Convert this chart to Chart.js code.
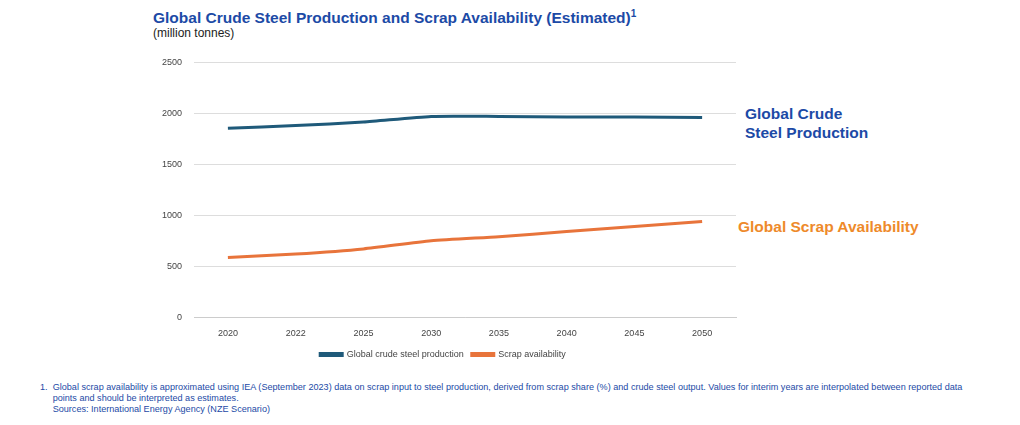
<!DOCTYPE html>
<html><head><meta charset="utf-8">
<script src="https://cdn.jsdelivr.net/npm/chart.js@4"></script>
<style>
body{margin:0;width:1020px;height:425px;background:#fff;font-family:"Liberation Sans",Arial,sans-serif;position:relative;overflow:hidden}
.t{position:absolute;left:153px;top:8px;font-size:15.5px;font-weight:bold;color:#1c4aa6}
.t sup{font-size:10px}
.s{position:absolute;left:153px;top:26px;font-size:12px;color:#222}
.l1{position:absolute;left:745px;top:104px;font-size:15.5px;font-weight:bold;color:#1c4aa6;line-height:19px}
.l2{position:absolute;left:738px;top:218px;font-size:15.5px;font-weight:bold;color:#ee8a2a}
.f{position:absolute;left:40px;top:382px;font-size:9.1px;color:#1c4aa6;line-height:11px}
#w{position:absolute;left:150px;top:45px;width:598px;height:324px}
</style></head><body>
<div class="t">Global Crude Steel Production and Scrap Availability (Estimated)<sup>1</sup></div>
<div class="s">(million tonnes)</div>
<div class="l1">Global Crude<br>Steel Production</div>
<div class="l2">Global Scrap Availability</div>
<div class="f">1.&nbsp; Global scrap availability is approximated using IEA (September 2023) data on scrap input to steel production, derived from scrap share (%) and crude steel output. Values for interim years are interpolated between reported data<br>&nbsp;&nbsp;&nbsp;&nbsp; points and should be interpreted as estimates.<br>&nbsp;&nbsp;&nbsp;&nbsp; Sources: International Energy Agency (NZE Scenario)</div>
<div id="w"><canvas id="c"></canvas></div>
<script>
const years=["2020","2022","2025","2030","2035","2040","2045","2050"];
const production=[1855,1880,1915,1970,1970,1965,1965,1960];
const scrap=[585,620,670,750,790,840,890,940];
new Chart(document.getElementById('c'),{type:'line',
data:{labels:years,datasets:[
{label:'Global crude steel production',data:production,borderColor:'#1f5a7a',backgroundColor:'#1f5a7a',borderWidth:3,pointRadius:0,tension:0.2},
{label:'Scrap availability',data:scrap,borderColor:'#e8743b',backgroundColor:'#e8743b',borderWidth:3,pointRadius:0,tension:0.2}]},
options:{responsive:true,maintainAspectRatio:false,animation:false,
layout:{padding:{left:0,right:12,top:2,bottom:0}},
plugins:{legend:{position:'bottom',labels:{boxWidth:22,boxHeight:2,font:{size:9,family:'Liberation Sans'},color:'#444',padding:8}},tooltip:{enabled:false}},
scales:{x:{offset:true,grid:{display:false},border:{color:'#ccc'},ticks:{font:{size:9,family:'Liberation Sans'},color:'#444'}},
y:{min:0,max:2500,ticks:{stepSize:500,callback:v=>String(v),font:{size:9,family:'Liberation Sans'},color:'#444',padding:12},grid:{color:'#ddd',drawTicks:false},border:{display:false}}}}});
</script></body></html>
